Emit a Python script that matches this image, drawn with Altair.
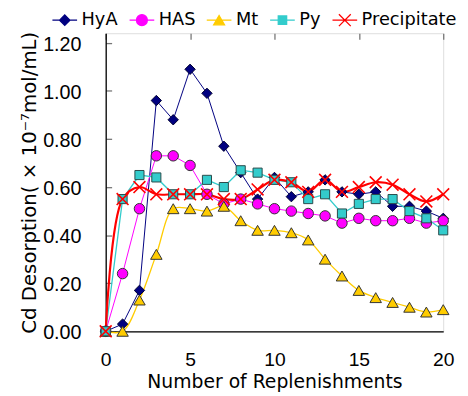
import altair as alt
import pandas as pd

# ---- data ----
x_vals = list(range(21))
series_names = ["HyA", "HAS", "Mt", "Py", "Precipitate"]
hya = [0.00, 0.03, 0.17, 0.96, 0.88, 1.09, 0.99, 0.77, 0.66, 0.55, 0.64,
       0.56, 0.58, 0.63, 0.58, 0.57, 0.58, 0.52, 0.52, 0.50, 0.47]
has = [0.00, 0.24, 0.51, 0.73, 0.73, 0.69, 0.57, 0.53, 0.55, 0.53, 0.51,
       0.50, 0.49, 0.48, 0.45, 0.47, 0.46, 0.46, 0.47, 0.45, 0.46]
mt = [0.00, 0.00, 0.13, 0.32, 0.51, 0.51, 0.50, 0.52, 0.46, 0.42, 0.42,
      0.41, 0.38, 0.30, 0.23, 0.17, 0.14, 0.12, 0.10, 0.08, 0.09]
py = [0.00, 0.55, 0.65, 0.64, 0.57, 0.57, 0.63, 0.60, 0.67, 0.66, 0.63,
      0.62, 0.55, 0.57, 0.49, 0.53, 0.55, 0.55, 0.50, 0.47, 0.42]
precip = [0.00, 0.55, 0.60, 0.57, 0.57, 0.57, 0.57, 0.55, 0.55, 0.59, 0.63,
          0.62, 0.58, 0.63, 0.58, 0.60, 0.62, 0.61, 0.57, 0.54, 0.57]
y_ticks = [0.0, 0.2, 0.4, 0.6, 0.8, 1.0, 1.2]
x_ticks = [0, 5, 10, 15, 20]

# ---- styles ----
line_colors = ["#000080", "#FF00FF", "#FFCC00", "#33CCCC", "#FF0000"]
fill_colors = ["#000080", "#FF00FF", "#FFCC00", "#33CCCC", "#FF0000"]
edge_colors = ["#000030", "#333333", "#333333", "#2a4a4a", "#FF0000"]
line_widths = [1.0, 1.0, 1.3, 1.3, 2.2]
interps = ["linear", "linear", "catmull-rom", "linear", "catmull-rom"]
point_shapes = ["diamond", "circle", "triangle-up", "square",
                "M-1,-1L1,1M-1,1L1,-1"]
point_sizes = [110, 112, 135, 85, 144]
legend_symbol_paths = [
    "M-1,0H-0.42M0.42,0H1M0,-0.42L0.42,0L0,0.42L-0.42,0Z",
    "M-1,0H-0.44M0.44,0H1M0.44,0A0.44,0.44,0,1,1,-0.44,0A0.44,0.44,0,1,1,0.44,0Z",
    "M-1,0H-0.22M0.22,0H1M0,-0.38L0.44,0.38L-0.44,0.38Z",
    "M-1,0H-0.34M0.34,0H1M-0.34,-0.34H0.34V0.34H-0.34Z",
    "M-1,0H1M-0.48,-0.48L0.48,0.48M-0.48,0.48L0.48,-0.48",
]

values = {"HyA": hya, "HAS": has, "Mt": mt, "Py": py, "Precipitate": precip}
rows = [{"n": xv, "cd": v, "series": name}
        for name in series_names for xv, v in zip(x_vals, values[name])]
df = pd.DataFrame(rows)

TXT = "DejaVu Sans"
NUM = "Liberation Sans"
W, H = 342, 302

x_enc = alt.X(
    "n:Q",
    scale=alt.Scale(domain=[0, 20], nice=False, zero=False),
    axis=alt.Axis(
        values=x_ticks, format="d", title="Number of Replenishments",
        labelFont=NUM, labelFontSize=19.5, labelColor="black", labelPadding=20,
        labelAngle=0, labelFlush=False, labelOverlap=False,
        ticks=False, tickSize=0,
        domainColor="black", domainWidth=1.3,
        grid=True, gridDash=[6, 1000], gridColor="#777777", gridWidth=1.3,
        titleFont=TXT, titleFontSize=19, titleFontWeight="normal", titleColor="black",
        titleX=W / 2, titleY=51, titleBaseline="middle", titleAlign="center",
    ),
)
y_enc = alt.Y(
    "cd:Q",
    scale=alt.Scale(domain=[0, 1.24], nice=False, zero=True),
    axis=alt.Axis(
        values=y_ticks, format=".2f", title="Cd Desorption( × 10⁻⁷mol/mL)",
        labelFont=NUM, labelFontSize=20, labelColor="black", labelPadding=25,
        labelFlush=False, labelOverlap=False, labelOffset=1.5,
        ticks=False, tickSize=0,
        domainColor="black", domainWidth=1.3,
        grid=True, gridDash=[6, 1000], gridColor="#777777", gridWidth=1.3,
        titleFont=TXT, titleFontSize=20, titleFontWeight="normal", titleColor="black",
        titleX=-76.8, titleY=H / 2, titleAngle=270, titleBaseline="middle",
        titleAlign="center",
    ),
)

base = alt.Chart(df)
layers = []
for i, name in enumerate(series_names):
    layers.append(
        base.transform_filter(alt.datum.series == name)
        .mark_line(color=line_colors[i], strokeWidth=line_widths[i],
                   interpolate=interps[i])
        .encode(x=x_enc, y=y_enc, order="n:Q")
    )
for i, name in enumerate(series_names):
    is_x = name == "Precipitate"
    layers.append(
        base.transform_filter(alt.datum.series == name)
        .mark_point(shape=point_shapes[i], size=point_sizes[i], opacity=1,
                    filled=not is_x,
                    fill=("none" if is_x else fill_colors[i]),
                    stroke=edge_colors[i],
                    strokeWidth=(1.6 if is_x else 1.0))
        .encode(x=x_enc, y=y_enc)
    )

# ---- legend (line stub + marker in one symbol) ----
leg = alt.Legend(
    orient="none", legendX=-55, legendY=-27, direction="horizontal", title=None,
    symbolSize=625, symbolStrokeWidth=1.3,
    labelFont=TXT, labelFontSize=18, labelColor="black",
    labelOffset=3.5, columnPadding=8.2, padding=0, labelLimit=0,
)
legend_df = pd.DataFrame({"series": series_names})
leg_layer = (
    alt.Chart(legend_df).transform_filter("false")
    .mark_point(filled=True, opacity=1)
    .encode(
        shape=alt.Shape("series:N", scale=alt.Scale(domain=series_names, range=legend_symbol_paths), legend=leg),
        fill=alt.Fill("series:N", scale=alt.Scale(domain=series_names, range=fill_colors), legend=leg),
        stroke=alt.Stroke("series:N", scale=alt.Scale(domain=series_names, range=line_colors), legend=leg),
    )
)
layers.append(leg_layer)

chart = (
    alt.layer(*layers)
    .properties(width=W, height=H,
                padding={"left": 99, "top": 23, "right": 17, "bottom": 62},
                autosize=alt.AutoSizeParams(type="none"))
    .configure_view(stroke="black", strokeWidth=1.3)
    .configure(background="white")
)

chart.save("out.html", embed_options={"renderer": "svg", "actions": False})
